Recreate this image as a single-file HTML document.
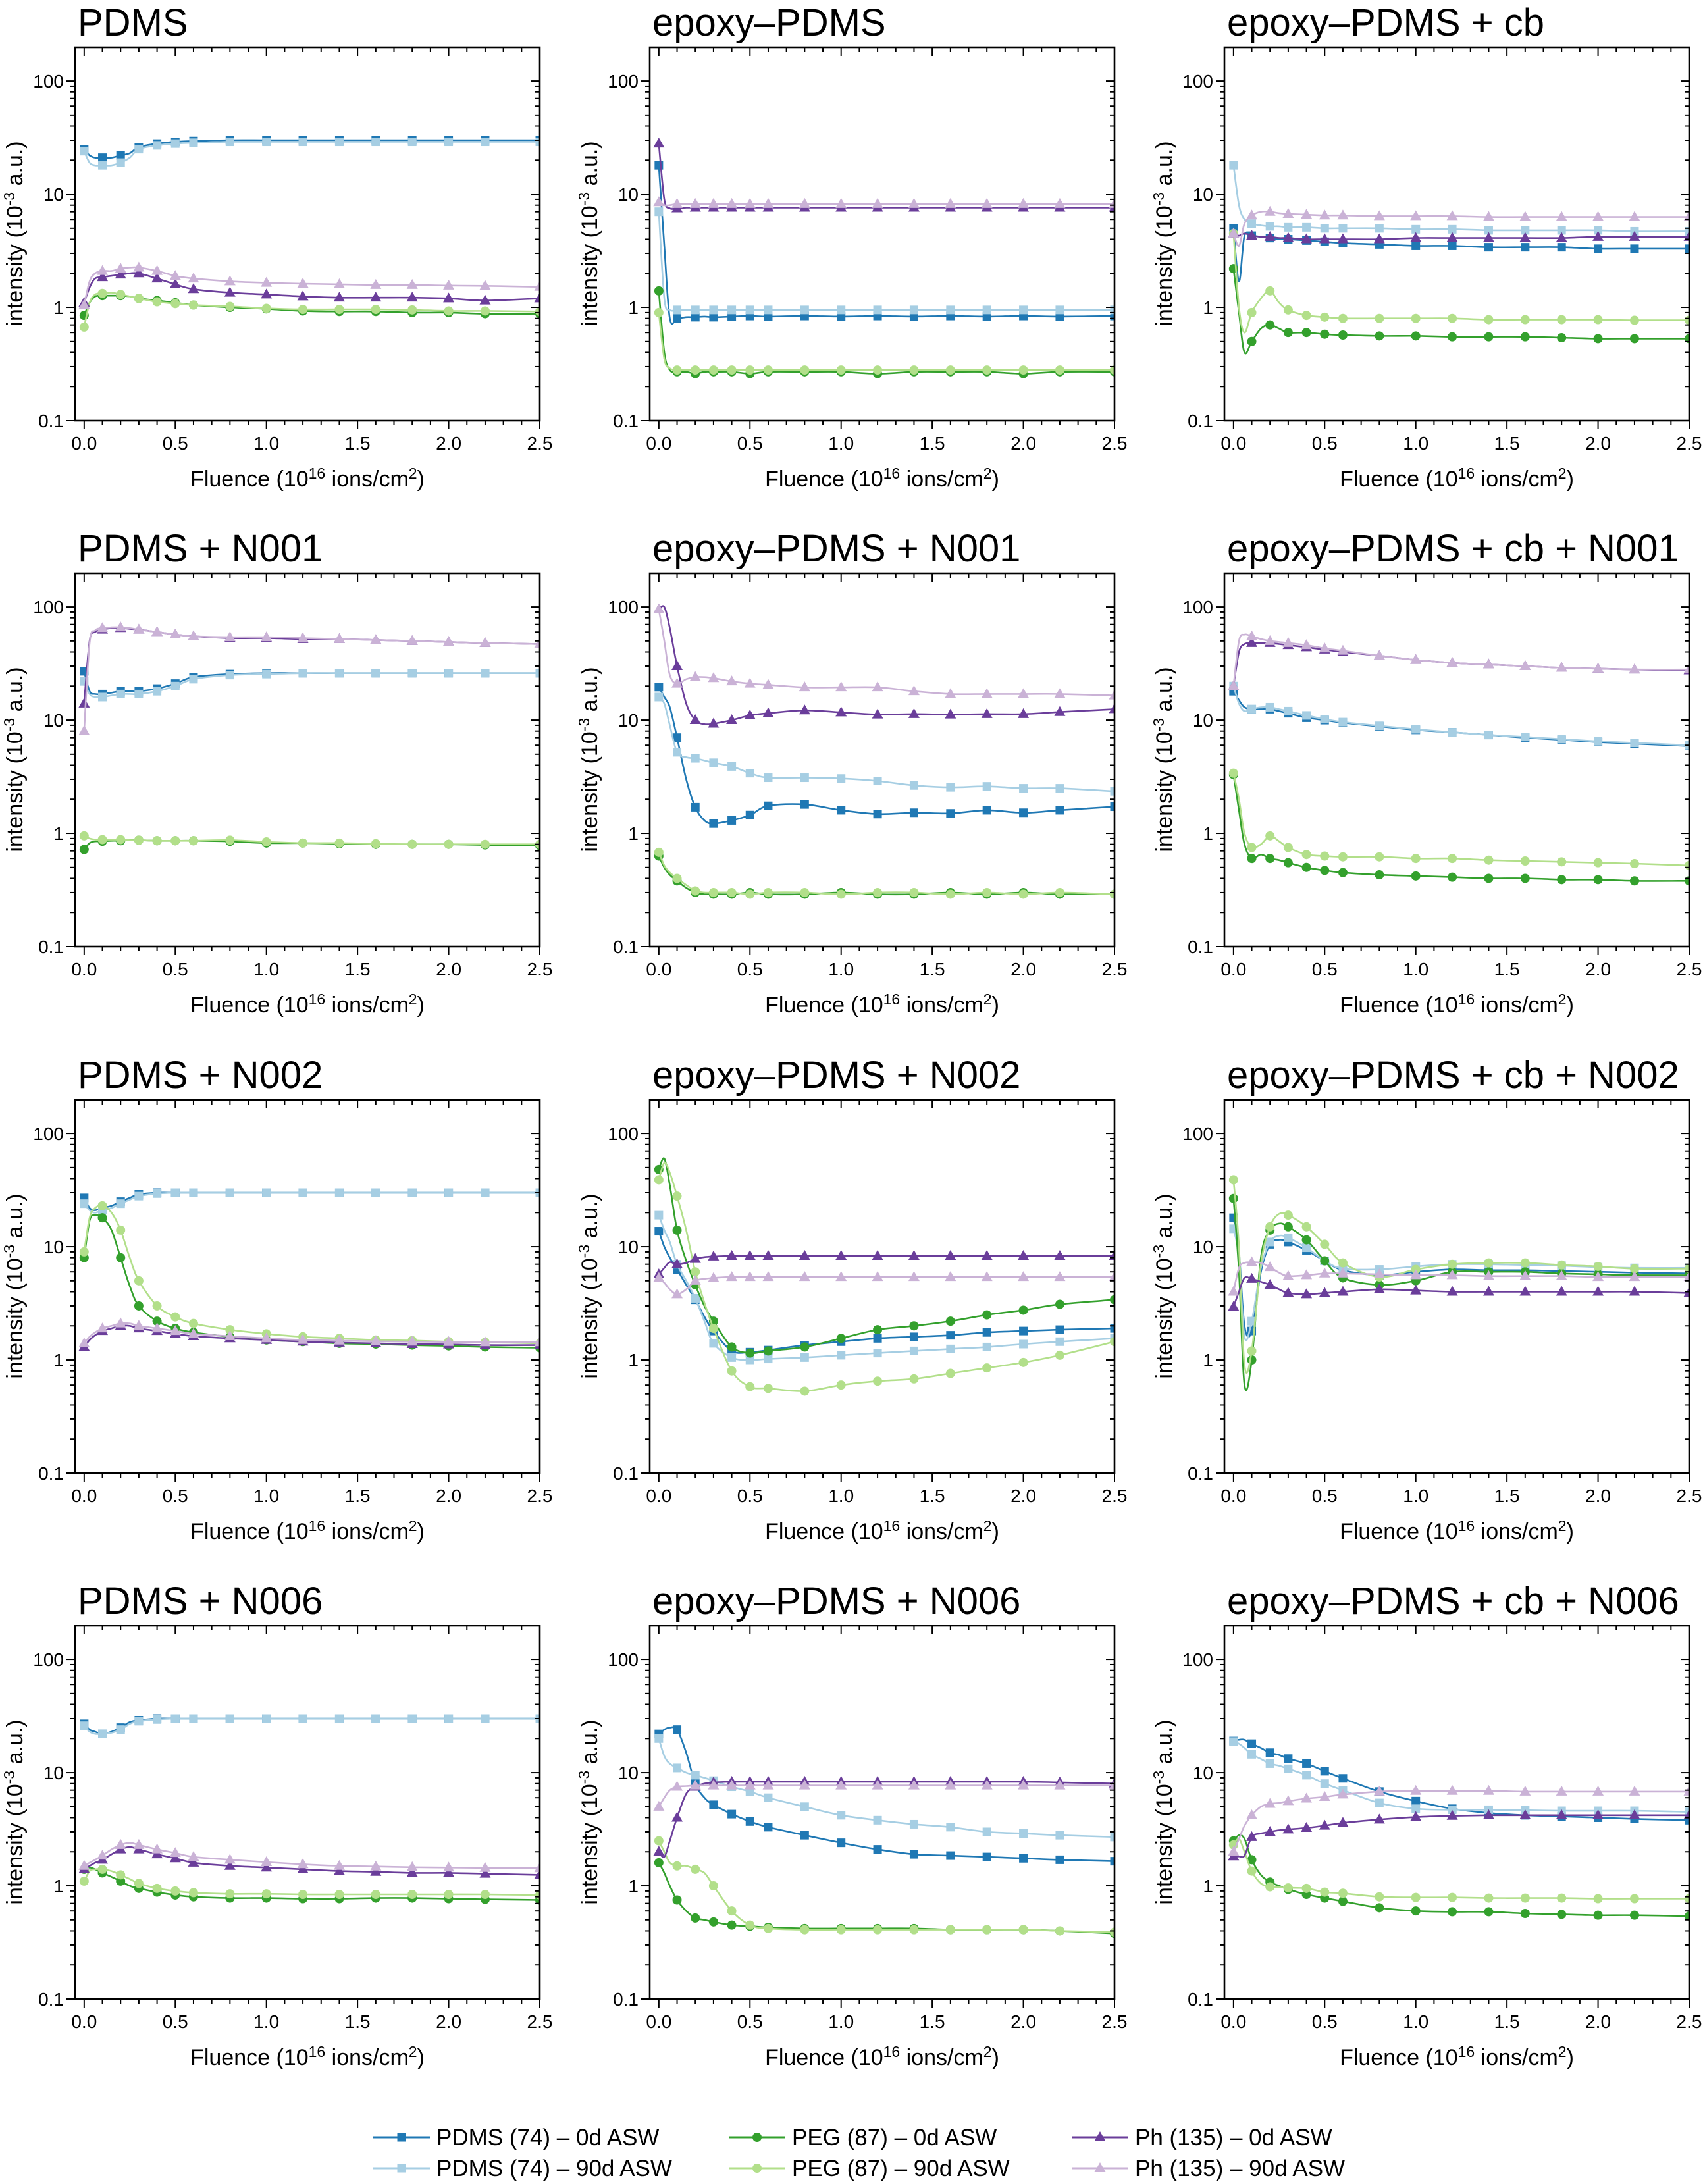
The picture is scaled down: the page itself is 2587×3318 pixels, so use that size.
<!DOCTYPE html>
<html><head><meta charset="utf-8"><style>
html,body{margin:0;padding:0;background:#fff}
svg{display:block;font-family:"Liberation Sans",sans-serif}
</style></head><body>
<svg id="fig" width="2587" height="3318" viewBox="0 0 2587 3318" xmlns="http://www.w3.org/2000/svg"></svg>
<script>
// shared x-grid (fluence, 1e16 ions/cm2)
const FLUENCE=[0,0.03,0.06,0.1,0.15,0.2,0.25,0.3,0.4,0.5,0.6,0.8,1.0,1.2,1.4,1.6,1.8,2.0,2.2,2.5];
const X_TICKS=["0.0","0.5","1.0","1.5","2.0","2.5"];
const Y_TICKS=["0.1","1","10","100"];
const PANEL_TITLES=["PDMS","epoxy–PDMS","epoxy–PDMS + cb","PDMS + N001","epoxy–PDMS + N001","epoxy–PDMS + cb + N001","PDMS + N002","epoxy–PDMS + N002","epoxy–PDMS + cb + N002","PDMS + N006","epoxy–PDMS + N006","epoxy–PDMS + cb + N006"];
const SERIES_LABELS=["PDMS (74) – 0d ASW","PDMS (74) – 90d ASW","PEG (87) – 0d ASW","PEG (87) – 90d ASW","Ph (135) – 0d ASW","Ph (135) – 90d ASW"];

// panel 1 PDMS
const p1_pdms0=[25,22,21,21,21,22,23,26,28,29,29.5,30,30,30,30,30,30,30,30,30];
const p1_pdms90=[24,19,18,18,18,19,21,25,27,28,28.5,29,29,29,29,29,29,29,29,29];
const p1_peg0=[0.85,1.1,1.25,1.27,1.27,1.27,1.25,1.2,1.15,1.1,1.05,1.0,0.97,0.93,0.92,0.92,0.9,0.9,0.88,0.88];
const p1_peg90=[0.67,1.1,1.3,1.33,1.35,1.3,1.25,1.2,1.12,1.08,1.05,1.02,0.98,0.96,0.96,0.96,0.95,0.93,0.93,0.92];
const p1_ph0=[1.1,1.5,1.8,1.85,1.9,1.95,2.0,2.0,1.8,1.6,1.45,1.35,1.3,1.25,1.22,1.22,1.22,1.2,1.15,1.2];
const p1_ph90=[1.05,1.7,2.0,2.1,2.1,2.2,2.25,2.25,2.1,1.9,1.8,1.7,1.65,1.62,1.6,1.58,1.58,1.56,1.55,1.52];
// panel 2 epoxy-PDMS
const p2_pdms0=[18,3.5,0.8,0.8,0.82,0.82,0.83,0.82,0.83,0.84,0.83,0.84,0.83,0.84,0.83,0.84,0.83,0.84,0.83,0.84];
const p2_pdms90=[7,1.2,0.95,0.95,0.95,0.95,0.95,0.95,0.95,0.95,0.95,0.95,0.95,0.95,0.95,0.95,0.95,0.95,0.95,0.95];
const p2_peg0=[1.4,0.4,0.28,0.27,0.27,0.26,0.27,0.27,0.27,0.26,0.27,0.27,0.27,0.26,0.27,0.27,0.27,0.26,0.27,0.27];
const p2_peg90=[0.9,0.35,0.29,0.28,0.28,0.28,0.28,0.28,0.28,0.28,0.28,0.28,0.28,0.28,0.28,0.28,0.28,0.28,0.28,0.28];
const p2_ph0=[28,9,7.5,7.5,7.6,7.6,7.6,7.6,7.6,7.6,7.6,7.6,7.6,7.6,7.6,7.6,7.6,7.6,7.6,7.6];
const p2_ph90=[8.5,8,8,8.2,8.2,8.2,8.2,8.2,8.2,8.2,8.2,8.2,8.2,8.2,8.2,8.2,8.2,8.2,8.2,8.2];
// panel 3 epoxy-PDMS + cb
const p3_pdms0=[5,1.7,4.3,4.3,4.2,4.1,4.0,4.0,3.9,3.8,3.7,3.6,3.5,3.5,3.4,3.4,3.4,3.3,3.3,3.3];
const p3_pdms90=[18,8,6,5.5,5.3,5.2,5.2,5.1,5.1,5.0,5.0,5.0,4.9,4.9,4.8,4.8,4.8,4.8,4.7,4.7];
const p3_peg0=[2.2,0.9,0.4,0.5,0.65,0.7,0.65,0.6,0.6,0.58,0.57,0.56,0.56,0.55,0.55,0.55,0.54,0.53,0.53,0.53];
const p3_peg90=[4.5,1.0,0.6,0.9,1.2,1.4,1.1,0.95,0.85,0.82,0.8,0.8,0.8,0.8,0.78,0.78,0.78,0.78,0.77,0.77];
const p3_ph0=[4.5,4.3,4.5,4.3,4.2,4.2,4.1,4.1,4.0,4.0,4.0,4.0,4.1,4.1,4.1,4.1,4.1,4.2,4.2,4.2];
const p3_ph90=[4.5,3.5,5.5,6.5,7,7,6.8,6.7,6.6,6.5,6.5,6.4,6.4,6.4,6.3,6.3,6.3,6.3,6.3,6.3];
// panel 4 PDMS + N001
const p4_pdms0=[27,18,17,17,17.5,18,18,18,19,21,24,25.5,26,26,26,26,26,26,26,26];
const p4_pdms90=[22,17,16,16,16.5,17,17,17,18,20,23,25,25.5,26,26,26,26,26,26,26];
const p4_peg0=[0.72,0.82,0.85,0.85,0.86,0.86,0.87,0.87,0.86,0.86,0.86,0.85,0.82,0.82,0.81,0.8,0.8,0.8,0.79,0.78];
const p4_peg90=[0.95,0.9,0.88,0.88,0.88,0.88,0.87,0.87,0.86,0.86,0.86,0.87,0.84,0.82,0.82,0.81,0.8,0.8,0.8,0.8];
const p4_ph0=[14,50,60,63,65,65,64,63,60,57,55,53,53,52,52,51,50,49,48,47];
const p4_ph90=[8,48,62,65,66,66,65,63,60,57,55,54,54,53,52,51,50,49,48,47];
// panel 5 epoxy-PDMS + N001
const p5_pdms0=[19.6,16,13,7,3,1.7,1.3,1.22,1.3,1.45,1.75,1.8,1.6,1.48,1.52,1.5,1.6,1.52,1.6,1.72];
const p5_pdms90=[16,14,9,5.2,4.7,4.6,4.4,4.2,3.9,3.4,3.1,3.1,3.05,2.9,2.65,2.55,2.6,2.5,2.5,2.35];
const p5_peg0=[0.63,0.5,0.43,0.38,0.33,0.3,0.29,0.29,0.29,0.3,0.29,0.29,0.3,0.29,0.29,0.3,0.29,0.3,0.29,0.29];
const p5_peg90=[0.68,0.52,0.45,0.4,0.35,0.31,0.3,0.3,0.3,0.29,0.3,0.3,0.29,0.3,0.3,0.29,0.3,0.29,0.3,0.29];
const p5_ph0=[95,100,65,30,14,10,9.2,9.3,10,11,11.5,12.2,11.7,11.2,11.3,11.2,11.3,11.3,11.8,12.5];
const p5_ph90=[95,50,25,21,23,24,24,23.5,22,21,20.5,19.5,19.5,19.5,18,17,17,17,17,16.5];
// panel 6 epoxy-PDMS + cb + N001
const p6_pdms0=[18,15,13,12.5,12.5,12.5,12,11.5,10.5,10,9.5,8.8,8.2,7.8,7.4,7,6.7,6.4,6.2,5.9];
const p6_pdms90=[20,14,12,12.5,13,13,12.5,12,11,10.2,9.6,8.9,8.3,7.8,7.4,7.1,6.8,6.5,6.3,6.0];
const p6_peg0=[3.3,1.6,0.8,0.6,0.65,0.6,0.58,0.55,0.5,0.47,0.45,0.43,0.42,0.41,0.4,0.4,0.39,0.39,0.38,0.38];
const p6_peg90=[3.4,2.0,1.0,0.75,0.8,0.95,0.85,0.75,0.65,0.63,0.62,0.62,0.6,0.6,0.58,0.57,0.56,0.55,0.54,0.52];
const p6_ph0=[20,40,47,48,48,48,47,46,44,42,40,37,34,32,31,30,29,28.5,28,27.5];
const p6_ph90=[20,50,57,55,52,50,49,48,46,43,41,37,34,32,31,30,29,28.5,28,28];
// panel 7 PDMS + N002
const p7_pdms0=[27,22,21,22,23,25,27,29,30,30,30,30,30,30,30,30,30,30,30,30];
const p7_pdms90=[24,21,20,21,22,24,26,28,29.5,30,30,30,30,30,30,30,30,30,30,30];
const p7_peg0=[8,17,19,18,14,8,4.5,3,2.2,1.9,1.75,1.6,1.5,1.45,1.4,1.38,1.35,1.33,1.3,1.28];
const p7_peg90=[9,18,22,23,20,14,8,5,3,2.4,2.1,1.85,1.7,1.6,1.55,1.5,1.48,1.45,1.43,1.4];
const p7_ph0=[1.3,1.5,1.65,1.8,1.9,2.0,2.0,1.9,1.8,1.7,1.62,1.55,1.5,1.45,1.42,1.4,1.38,1.37,1.35,1.35];
const p7_ph90=[1.4,1.6,1.75,1.9,2.0,2.1,2.1,2.0,1.9,1.8,1.7,1.62,1.55,1.5,1.48,1.46,1.45,1.44,1.43,1.43];
// panel 8 epoxy-PDMS + N002
const p8_pdms0=[13.7,10,8,6.3,4.6,3.4,2.4,1.8,1.2,1.17,1.22,1.35,1.45,1.55,1.6,1.65,1.75,1.8,1.85,1.9];
const p8_pdms90=[19,14,11,7,5,3.5,2.2,1.4,1.05,1.0,1.02,1.05,1.1,1.15,1.2,1.25,1.3,1.38,1.45,1.55];
const p8_peg0=[48,60,35,14,7.5,4.6,3.0,2.2,1.3,1.15,1.2,1.3,1.55,1.85,2.0,2.2,2.5,2.75,3.1,3.4];
const p8_peg90=[39,55,45,28,14,6,3.2,1.9,0.8,0.58,0.56,0.53,0.6,0.65,0.68,0.76,0.85,0.95,1.1,1.45];
const p8_ph0=[5.7,6.5,7.3,7.0,7.2,7.8,8.1,8.2,8.3,8.3,8.3,8.3,8.3,8.3,8.3,8.3,8.3,8.3,8.3,8.3];
const p8_ph90=[5.3,4.8,4.2,3.8,4.2,5.0,5.2,5.3,5.4,5.4,5.4,5.4,5.4,5.4,5.4,5.4,5.4,5.4,5.4,5.4];
// panel 9 epoxy-PDMS + cb + N002
const p9_pdms0=[18,9,2,1.8,6,10.5,11.5,11,9.3,7.5,6.2,5.6,6.0,6.3,6.2,6.2,6.1,6.0,5.9,5.8];
const p9_pdms90=[14.4,8,1.6,2.2,6.5,11,12.5,12,9.8,7.5,6.4,6.3,6.7,7.0,7.0,6.9,6.8,6.6,6.5,6.5];
const p9_peg0=[26.7,6,0.6,1.0,8,14,16,15,11.5,7.5,5.3,4.6,5.0,6.0,6.0,6.0,5.8,5.7,5.6,5.6];
const p9_peg90=[39,10,0.9,1.2,7,15,19.5,19,15,10.5,7.2,5.4,6.3,7.0,7.2,7.2,6.9,6.7,6.4,6.4];
const p9_ph0=[2.95,4.0,5.3,5.2,4.9,4.6,4.2,3.9,3.8,3.9,4.0,4.2,4.1,4.0,4.0,4.0,4.0,4.0,4.0,3.9];
const p9_ph90=[4.0,6.5,7.2,7.3,7.2,6.6,5.9,5.5,5.6,5.8,5.8,5.7,5.6,5.6,5.5,5.5,5.5,5.4,5.4,5.4];
// panel 10 PDMS + N006
const p10_pdms0=[27,24,23,22,23,25,28,29,30,30,30,30,30,30,30,30,30,30,30,30];
const p10_pdms90=[26,23,22,22,22.5,24,27,28.5,29.5,30,30,30,30,30,30,30,30,30,30,30];
const p10_peg0=[1.4,1.45,1.4,1.3,1.2,1.1,1.0,0.95,0.88,0.83,0.8,0.78,0.78,0.77,0.77,0.78,0.78,0.77,0.76,0.75];
const p10_peg90=[1.1,1.35,1.4,1.4,1.35,1.25,1.15,1.05,0.95,0.9,0.87,0.85,0.85,0.84,0.84,0.84,0.84,0.84,0.84,0.83];
const p10_ph0=[1.4,1.5,1.6,1.7,1.9,2.1,2.2,2.1,1.9,1.75,1.6,1.5,1.45,1.4,1.35,1.33,1.3,1.3,1.28,1.25];
const p10_ph90=[1.5,1.6,1.7,1.85,2.1,2.3,2.4,2.3,2.1,1.95,1.8,1.7,1.62,1.55,1.5,1.48,1.46,1.45,1.44,1.43];
// panel 11 epoxy-PDMS + N006
const p11_pdms0=[22,24,25,24,15,8,6,5.2,4.3,3.7,3.3,2.8,2.4,2.1,1.9,1.85,1.8,1.75,1.7,1.65];
const p11_pdms90=[20,14,12,11,10,9.5,9,8.5,7.5,6.8,6.0,5.0,4.2,3.8,3.5,3.3,3.0,2.9,2.8,2.7];
const p11_peg0=[1.6,1.3,1.0,0.75,0.6,0.52,0.5,0.48,0.45,0.44,0.43,0.42,0.42,0.42,0.42,0.41,0.41,0.41,0.4,0.38];
const p11_peg90=[2.5,2.0,1.6,1.5,1.5,1.4,1.3,1.0,0.6,0.45,0.42,0.41,0.41,0.41,0.41,0.41,0.41,0.41,0.4,0.39];
const p11_ph0=[2.0,1.8,2.5,4,6.5,7.5,8,8.2,8.3,8.3,8.3,8.3,8.3,8.3,8.3,8.3,8.3,8.3,8.2,8.0];
const p11_ph90=[5,6,7,7.5,7.6,7.7,7.7,7.7,7.7,7.7,7.7,7.7,7.7,7.7,7.7,7.7,7.7,7.7,7.7,7.7];
// panel 12 epoxy-PDMS + cb + N006
const p12_pdms0=[19,19.5,19.5,18,16.5,15,14.3,13.3,12,10.3,8.9,6.8,5.6,4.8,4.4,4.2,4.1,4.0,3.9,3.8];
const p12_pdms90=[18.8,18,16.5,14.5,13.2,12,11.5,10.8,9.5,8.0,7.0,5.4,4.8,4.7,4.7,4.65,4.6,4.6,4.6,4.5];
const p12_peg0=[2.5,2.8,2.6,1.7,1.25,1.08,1.0,0.93,0.84,0.78,0.73,0.64,0.6,0.59,0.59,0.57,0.56,0.55,0.55,0.54];
const p12_peg90=[2.3,2.6,2.0,1.35,1.05,0.98,0.97,0.96,0.95,0.88,0.86,0.8,0.79,0.79,0.78,0.78,0.78,0.77,0.77,0.77];
const p12_ph0=[1.82,1.82,1.85,2.7,2.9,3.0,3.1,3.15,3.25,3.4,3.6,3.85,4.05,4.15,4.2,4.2,4.2,4.2,4.2,4.2];
const p12_ph90=[2.0,2.6,3.4,4.2,5.0,5.3,5.4,5.6,5.9,6.1,6.4,6.8,6.9,6.9,6.9,6.8,6.8,6.8,6.8,6.8];

const PANELS=[
 [p1_pdms0,p1_pdms90,p1_peg0,p1_peg90,p1_ph0,p1_ph90],
 [p2_pdms0,p2_pdms90,p2_peg0,p2_peg90,p2_ph0,p2_ph90],
 [p3_pdms0,p3_pdms90,p3_peg0,p3_peg90,p3_ph0,p3_ph90],
 [p4_pdms0,p4_pdms90,p4_peg0,p4_peg90,p4_ph0,p4_ph90],
 [p5_pdms0,p5_pdms90,p5_peg0,p5_peg90,p5_ph0,p5_ph90],
 [p6_pdms0,p6_pdms90,p6_peg0,p6_peg90,p6_ph0,p6_ph90],
 [p7_pdms0,p7_pdms90,p7_peg0,p7_peg90,p7_ph0,p7_ph90],
 [p8_pdms0,p8_pdms90,p8_peg0,p8_peg90,p8_ph0,p8_ph90],
 [p9_pdms0,p9_pdms90,p9_peg0,p9_peg90,p9_ph0,p9_ph90],
 [p10_pdms0,p10_pdms90,p10_peg0,p10_peg90,p10_ph0,p10_ph90],
 [p11_pdms0,p11_pdms90,p11_peg0,p11_peg90,p11_ph0,p11_ph90],
 [p12_pdms0,p12_pdms90,p12_peg0,p12_peg90,p12_ph0,p12_ph90]
];

const COLORS=["#1f78b4","#a6cee3","#33a02c","#b2df8a","#6a3d9a","#cab2d6"];
const SHAPES=["sq","sq","ci","ci","tr","tr"];
const NS="http://www.w3.org/2000/svg";
const svg=document.getElementById('fig');
function mk(tag,attrs,parent){const e=document.createElementNS(NS,tag);for(const k in attrs)e.setAttribute(k,attrs[k]);(parent||svg).appendChild(e);return e;}

const COLX=[114,987,1860], ROWY=[72,871,1671,2470], PW=706, PH=567;
const XMIN=-0.05, XMAX=2.5, LMIN=-1, LMAX=2.297;

function smoothPath(pts){
  let d="M"+pts[0][0].toFixed(1)+","+pts[0][1].toFixed(1);
  for(let i=0;i<pts.length-1;i++){
    const p0=pts[Math.max(0,i-1)],p1=pts[i],p2=pts[i+1],p3=pts[Math.min(pts.length-1,i+2)];
    const c1=[p1[0]+(p2[0]-p0[0])/6,p1[1]+(p2[1]-p0[1])/6];
    const c2=[p2[0]-(p3[0]-p1[0])/6,p2[1]-(p3[1]-p1[1])/6];
    d+="C"+c1[0].toFixed(1)+","+c1[1].toFixed(1)+" "+c2[0].toFixed(1)+","+c2[1].toFixed(1)+" "+p2[0].toFixed(1)+","+p2[1].toFixed(1);
  }
  return d;
}
function marker(shape,x,y,color,g){
  let m;
  if(shape==="sq") m=mk('rect',{x:x-6.5,y:y-6.5,width:13,height:13,fill:color},g);
  else if(shape==="ci") m=mk('circle',{cx:x,cy:y,r:7,fill:color},g);
  else m=mk('polygon',{points:(x)+","+(y-9)+" "+(x-8.5)+","+(y+6)+" "+(x+8.5)+","+(y+6),fill:color},g);
  return m;
}

PANELS.forEach((series,pi)=>{
  const L=COLX[pi%3], T=ROWY[Math.floor(pi/3)];
  const sx=v=>L+(v-XMIN)/(XMAX-XMIN)*PW;
  const sy=v=>T+(LMAX-Math.log10(v))/(LMAX-LMIN)*PH;
  const g=mk('g',{});
  
  
  const title=mk('text',{x:L+4,y:T-18,'font-size':58,fill:'#000'},g);
  title.textContent=PANEL_TITLES[pi];
  
  
  const cid='clip'+pi;
  const cp=mk('clipPath',{id:cid},g); mk('rect',{x:L,y:T,width:PW,height:PH},cp);
  const plot=mk('g',{'clip-path':'url(#'+cid+')'},g);
  
  
  series.forEach((vals,si)=>{
    const pts=vals.map((v,i)=>[sx(FLUENCE[i]),sy(v)]);
    const sg=mk('g',{},plot);
    
    
    const ln=mk('path',{d:smoothPath(pts),fill:'none',stroke:COLORS[si],'stroke-width':2.6},sg);
    
    
    let last=-1;
    pts.forEach((p,i)=>{
      if(i>0 && i<pts.length-1 && FLUENCE[i]-last<0.09)return;
      last=FLUENCE[i];
      const m=marker(SHAPES[si],p[0],p[1],COLORS[si],sg);
      
      
    });
  });
  const fr=mk('rect',{x:L,y:T,width:PW,height:PH,fill:'none',stroke:'#000','stroke-width':2.6},g);
  
  
  const B=T+PH;
  for(let k=0;k<=25;k++){
    const v=k/10, x=sx(v), major=(k%5===0), len=major?13:7;
    mk('line',{x1:x,y1:B,x2:x,y2:B+len,stroke:'#000','stroke-width':2},g);
    mk('line',{x1:x,y1:T,x2:x,y2:T+len,stroke:'#000','stroke-width':2},g);
  }
  X_TICKS.forEach(lbl=>{
    const t=mk('text',{x:sx(parseFloat(lbl)),y:B+44,'font-size':28,'text-anchor':'middle'},g);
    t.textContent=lbl;
    
    
  });
  for(let d=-1;d<=2;d++){
    for(let m=1;m<=9;m++){
      const v=m*Math.pow(10,d); if(Math.log10(v)>LMAX)break;
      const y=sy(v), len=(m===1)?13:7;
      mk('line',{x1:L,y1:y,x2:L-len,y2:y,stroke:'#000','stroke-width':2},g);
      mk('line',{x1:L+PW,y1:y,x2:L+PW-len,y2:y,stroke:'#000','stroke-width':2},g);
      if(d===2)break;
    }
  }
  Y_TICKS.forEach(lbl=>{
    const t=mk('text',{x:L-17,y:sy(parseFloat(lbl))+10,'font-size':28,'text-anchor':'end'},g);
    t.textContent=lbl;
    
    
  });
  const xt=mk('text',{x:L+PW/2,y:B+100,'font-size':34,'text-anchor':'middle'},g);
  xt.innerHTML='Fluence (10<tspan dy="-12" font-size="23">16</tspan><tspan dy="12"> ions/cm</tspan><tspan dy="-12" font-size="23">2</tspan><tspan dy="12">)</tspan>';
  
  
  const yc=T+283, yx=L-80;
  const yt=mk('text',{x:yx,y:yc,'font-size':34,'text-anchor':'middle',transform:'rotate(-90 '+yx+' '+yc+')'},g);
  yt.innerHTML='intensity (10<tspan dy="-12" font-size="23">-3</tspan><tspan dy="12"> a.u.)</tspan>';
  
  
});

const leg=mk('g',{});


const LEGX=[567,1107,1628], LEGY=[3247,3294];
SERIES_LABELS.forEach((lbl,si)=>{
  const x=LEGX[Math.floor(si/2)], y=LEGY[si%2];
  const e=mk('g',{},leg);
  
  
  mk('line',{x1:x,y1:y,x2:x+86,y2:y,stroke:COLORS[si],'stroke-width':3},e);
  marker(SHAPES[si],x+43,y,COLORS[si],e);
  const t=mk('text',{x:x+96,y:y+12,'font-size':35},e);
  t.textContent=lbl;
});
</script>
</body></html>
